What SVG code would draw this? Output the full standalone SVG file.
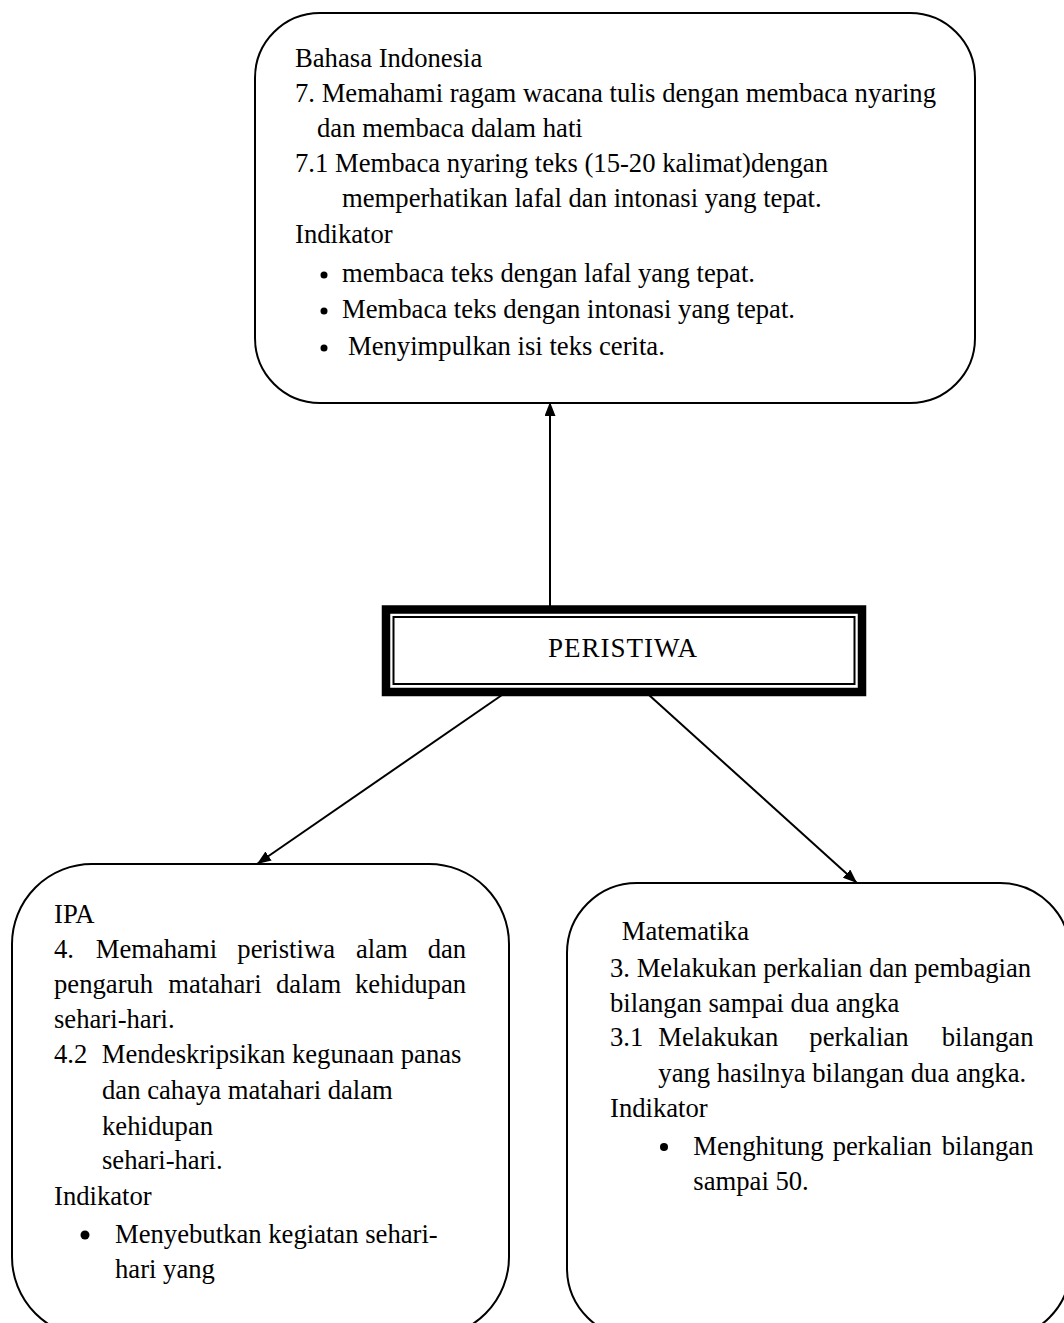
<svg xmlns="http://www.w3.org/2000/svg" width="1064" height="1323" viewBox="0 0 1064 1323">
<style>
.box{fill:#fff;stroke:#000;stroke-width:2}
.t{font-family:"Liberation Serif","Times New Roman",serif;font-size:26.67px;fill:#000}
.c{stroke:#000;stroke-width:2;fill:none}
.dot{fill:#000}
</style>
<defs>
<marker id="ah" markerUnits="userSpaceOnUse" markerWidth="14" markerHeight="11" refX="14" refY="5.5" orient="auto">
<path d="M0,0 L14,5.5 L0,11 z" fill="#000"/>
</marker>
</defs>
<rect width="1064" height="1323" fill="#fff"/>

<g id="bahasa-indonesia">
<rect class="box" x="255" y="13" width="720" height="390" rx="65" ry="65"/>
<text class="t" x="295" y="67">Bahasa Indonesia</text>
<text class="t" x="295" y="102">7. Memahami ragam wacana tulis dengan membaca nyaring</text>
<text class="t" x="317" y="137">dan membaca dalam hati</text>
<text class="t" x="295" y="172">7.1 Membaca nyaring teks (15-20 kalimat)dengan</text>
<text class="t" x="342" y="207">memperhatikan lafal dan intonasi yang tepat.</text>
<text class="t" x="295" y="243">Indikator</text>
<circle class="dot" cx="324" cy="275" r="3.5"/>
<text class="t" x="342" y="282">membaca teks dengan lafal yang tepat.</text>
<circle class="dot" cx="324" cy="311" r="3.5"/>
<text class="t" x="342" y="318">Membaca teks dengan intonasi yang tepat.</text>
<circle class="dot" cx="324" cy="348" r="3.5"/>
<text class="t" x="348" y="355">Menyimpulkan isi teks cerita.</text>
</g>

<g id="peristiwa">
<rect x="386" y="609.5" width="476" height="82.5" fill="#fff" stroke="#000" stroke-width="8.5"/>
<rect x="393.5" y="617" width="461" height="67" fill="none" stroke="#000" stroke-width="2"/>
<text class="t" x="548" y="657" style="font-size:27px;letter-spacing:1px">PERISTIWA</text>
</g>

<g id="ipa">
<rect class="box" x="12" y="864" width="497" height="473" rx="80" ry="80"/>
<text class="t" x="54" y="923">IPA</text>
<text class="t" y="958"><tspan x="54">4.</tspan><tspan x="95.7">Memahami</tspan><tspan x="237.3">peristiwa</tspan><tspan x="356">alam</tspan><tspan x="427.7">dan</tspan></text>
<text class="t" y="993"><tspan x="54">pengaruh</tspan><tspan x="168.3">matahari</tspan><tspan x="276">dalam</tspan><tspan x="355">kehidupan</tspan></text>
<text class="t" x="54" y="1028">sehari-hari.</text>
<text class="t" y="1063"><tspan x="54">4.2</tspan><tspan x="101.7">Mendeskripsikan kegunaan panas</tspan></text>
<text class="t" x="102" y="1099">dan cahaya matahari dalam</text>
<text class="t" x="102" y="1135">kehidupan</text>
<text class="t" x="102" y="1169">sehari-hari.</text>
<text class="t" x="54" y="1205">Indikator</text>
<circle class="dot" cx="85" cy="1235" r="4.5"/>
<text class="t" x="115" y="1243">Menyebutkan kegiatan sehari-</text>
<text class="t" x="115" y="1278">hari yang</text>
</g>

<g id="matematika">
<rect class="box" x="567" y="883" width="503" height="455" rx="70" ry="70"/>
<text class="t" x="621.7" y="940">Matematika</text>
<text class="t" x="610" y="976.7">3. Melakukan perkalian dan pembagian</text>
<text class="t" x="610" y="1011.7">bilangan sampai dua angka</text>
<text class="t" y="1046"><tspan x="610">3.1</tspan><tspan x="658.3">Melakukan</tspan><tspan x="809.3">perkalian</tspan><tspan x="941.7">bilangan</tspan></text>
<text class="t" x="658.3" y="1081.7">yang hasilnya bilangan dua angka.</text>
<text class="t" x="610" y="1116.7">Indikator</text>
<circle class="dot" cx="664" cy="1147" r="4"/>
<text class="t" y="1155"><tspan x="693.3">Menghitung</tspan><tspan x="832.7">perkalian</tspan><tspan x="941.7">bilangan</tspan></text>
<text class="t" x="693.3" y="1190">sampai 50.</text>
</g>

<g id="connectors">
<path class="c" d="M550,606 L550,402" marker-end="url(#ah)"/>
<path class="c" d="M502,695 L257,864" marker-end="url(#ah)"/>
<path class="c" d="M649,695 L857,883" marker-end="url(#ah)"/>
</g>
</svg>
